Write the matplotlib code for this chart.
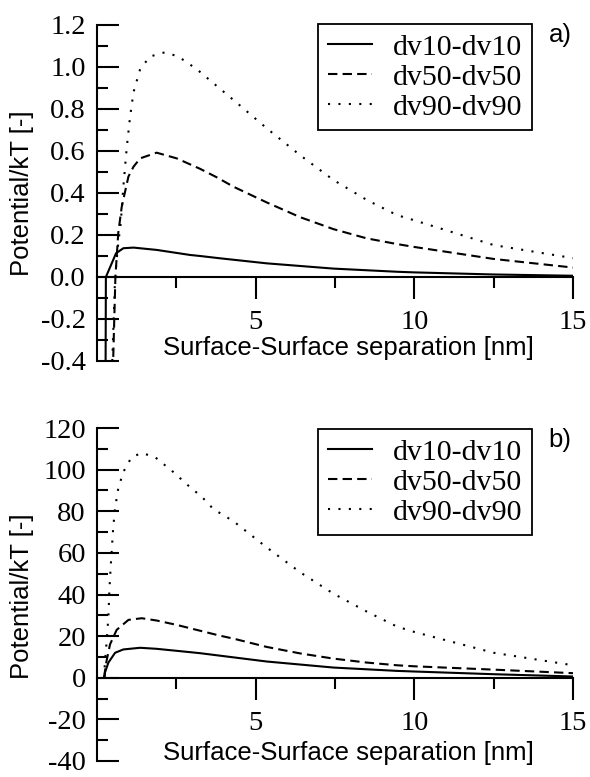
import matplotlib
matplotlib.use("Agg")
import matplotlib.pyplot as plt
from matplotlib.ticker import FixedLocator, MultipleLocator

# Panel a) potential/kT values
a_x10 = [0.27, 0.28, 0.60, 0.83, 1.15, 1.88, 2.93, 3.25, 3.88, 5.35, 7.45, 9.45, 10.0, 12.5, 15.0]
a_y10 = [-0.45, 0.0, 0.113, 0.137, 0.14, 0.129, 0.105, 0.10, 0.089, 0.065, 0.04, 0.025, 0.022, 0.012, 0.006]
a_x50 = [0.50, 0.58, 0.67, 0.78, 0.99, 1.15, 1.36, 1.88, 2.51, 3.25, 3.77, 4.3, 5.35, 6.4, 7.45, 8.5, 9.45, 10.0, 12.5, 15.0]
a_y50 = [-0.45, 0.0, 0.21, 0.335, 0.478, 0.525, 0.565, 0.592, 0.565, 0.515, 0.475, 0.43, 0.355, 0.285, 0.228, 0.184, 0.157, 0.143, 0.086, 0.045]
a_x90 = [0.47, 0.57, 0.60, 0.67, 0.75, 0.83, 0.94, 1.04, 1.15, 1.36, 1.67, 2.14, 2.56, 3.14, 3.77, 4.3, 5.35, 6.4, 7.45, 8.5, 9.45, 10.0, 12.5, 15.0]
a_y90 = [-0.45, 0.0, 0.05, 0.16, 0.26, 0.43, 0.62, 0.76, 0.88, 0.99, 1.05, 1.07, 1.05, 0.99, 0.91, 0.843, 0.708, 0.58, 0.462, 0.367, 0.295, 0.27, 0.152, 0.09]

# Panel b)
b_x10 = [0.24, 0.25, 0.36, 0.57, 0.83, 1.36, 1.88, 2.93, 3.25, 3.88, 5.35, 7.45, 9.45, 10.0, 12.5, 15.0]
b_y10 = [0.0, 2.5, 7.3, 12.0, 13.6, 14.4, 13.9, 12.3, 11.8, 10.6, 7.8, 4.9, 3.3, 3.0, 1.7, 0.6]
b_x50 = [0.22, 0.30, 0.41, 0.62, 0.99, 1.41, 1.88, 2.51, 3.14, 3.88, 4.3, 5.35, 6.4, 7.45, 8.5, 9.45, 10.0, 12.5, 15.0]
b_y50 = [0.0, 8.0, 16.0, 23.0, 27.8, 28.6, 27.5, 25.4, 23.0, 20.2, 18.8, 14.8, 11.7, 9.2, 7.3, 6.0, 5.5, 3.9, 2.2]
b_x90 = [0.22, 0.25, 0.30, 0.36, 0.39, 0.43, 0.47, 0.51, 0.57, 0.67, 0.83, 1.09, 1.41, 1.83, 2.4, 3.03, 3.25, 3.67, 4.3, 5.35, 6.4, 7.45, 8.5, 9.45, 10.0, 12.5, 15.0]
b_y90 = [0.0, 7.3, 16.7, 29.4, 42.0, 53.0, 62.6, 72.0, 81.5, 91.0, 98.9, 106.0, 108.0, 106.0, 98.9, 90.2, 87.8, 81.0, 75.2, 62.6, 50.7, 40.4, 31.8, 24.6, 22.0, 12.0, 6.0]

labels = ["dv10-dv10", "dv50-dv50", "dv90-dv90"]

a_yticks = [1.2, 1.0, 0.8, 0.6, 0.4, 0.2, 0.0, -0.2, -0.4]
a_yticklabels = ["1.2", "1.0", "0.8", "0.6", "0.4", "0.2", "0.0", "-0.2", "-0.4"]
b_yticks = [120, 100, 80, 60, 40, 20, 0, -20, -40]
b_yticklabels = ["120", "100", "80", "60", "40", "20", "0", "-20", "-40"]
xticks = [5, 10, 15]
xticklabels = ["5", "10", "15"]

serif = "Liberation Serif"
sans = "Liberation Sans"
styles = ["-", (0, (4.5, 2.5)), (0, (1, 4))]

fig = plt.figure(figsize=(5.9, 7.77), dpi=100)
W, H = 590.0, 777.0


def setup(ax, ylim, yticks, yticklabels, yminor, tag, mid_px, legend_top, xlab_px):
    ax.set_xlim(0, 15)
    ax.set_ylim(*ylim)
    ax.spines["top"].set_visible(False)
    ax.spines["right"].set_visible(False)
    ax.spines["bottom"].set_position(("data", 0))
    for s in ["left", "bottom"]:
        ax.spines[s].set_linewidth(1.5)
    ax.xaxis.set_major_locator(FixedLocator(xticks))
    ax.set_xticklabels(xticklabels)
    ax.xaxis.set_minor_locator(FixedLocator([2.5, 7.5, 12.5]))
    ax.yaxis.set_major_locator(FixedLocator(yticks))
    ax.set_yticklabels(yticklabels)
    ax.yaxis.set_minor_locator(MultipleLocator(yminor))
    ax.tick_params(axis="y", which="major", direction="in", length=16, width=1.5, pad=8)
    ax.tick_params(axis="y", which="minor", direction="in", length=8, width=1.5)
    ax.tick_params(axis="x", which="major", direction="out", length=16, width=1.5, pad=8)
    ax.tick_params(axis="x", which="minor", direction="out", length=8, width=1.5)
    for t in ax.get_xticklabels() + ax.get_yticklabels():
        t.set_fontfamily(serif)
        t.set_fontsize(20.5)
    leg = ax.legend(labels, loc="upper left", bbox_to_anchor=(318 / W, 1 - legend_top / H),
                    bbox_transform=fig.transFigure, borderaxespad=0, fancybox=False,
                    edgecolor="black", framealpha=1, prop={"family": serif, "size": 21.5},
                    handlelength=1.47, handletextpad=0.7, labelspacing=0.1, borderpad=0.33)
    leg.get_frame().set_linewidth(1.3)
    fig.text(560 / W, 1 - (legend_top + 11) / H, tag, family=sans, fontsize=18.5, ha="center", va="center")
    fig.text(22 / W, 1 - mid_px / H, "Potential/kT [-]", family=sans, fontsize=18.5,
             rotation=90, ha="center", va="center")
    fig.text(348 / W, 1 - xlab_px / H, "Surface-Surface separation [nm]", family=sans,
             fontsize=18.5, ha="center", va="center")


ax1 = fig.add_axes([97 / W, 1 - 361 / H, 476 / W, 336 / H])
ax1.plot(a_x10, a_y10, color="black", linestyle=styles[0], linewidth=1.5)
ax1.plot(a_x50, a_y50, color="black", linestyle=styles[1], linewidth=1.5)
ax1.plot(a_x90, a_y90, color="black", linestyle=styles[2], linewidth=1.5)
setup(ax1, (-0.4, 1.2), a_yticks, a_yticklabels, 0.1, "a)", 193, 24, 348)

ax2 = fig.add_axes([97 / W, 1 - 761 / H, 476 / W, 333 / H])
ax2.plot(b_x10, b_y10, color="black", linestyle=styles[0], linewidth=1.5)
ax2.plot(b_x50, b_y50, color="black", linestyle=styles[1], linewidth=1.5)
ax2.plot(b_x90, b_y90, color="black", linestyle=styles[2], linewidth=1.5)
setup(ax2, (-40, 120), b_yticks, b_yticklabels, 10, "b)", 596, 429, 753)

fig.savefig("out.png", dpi=100)
